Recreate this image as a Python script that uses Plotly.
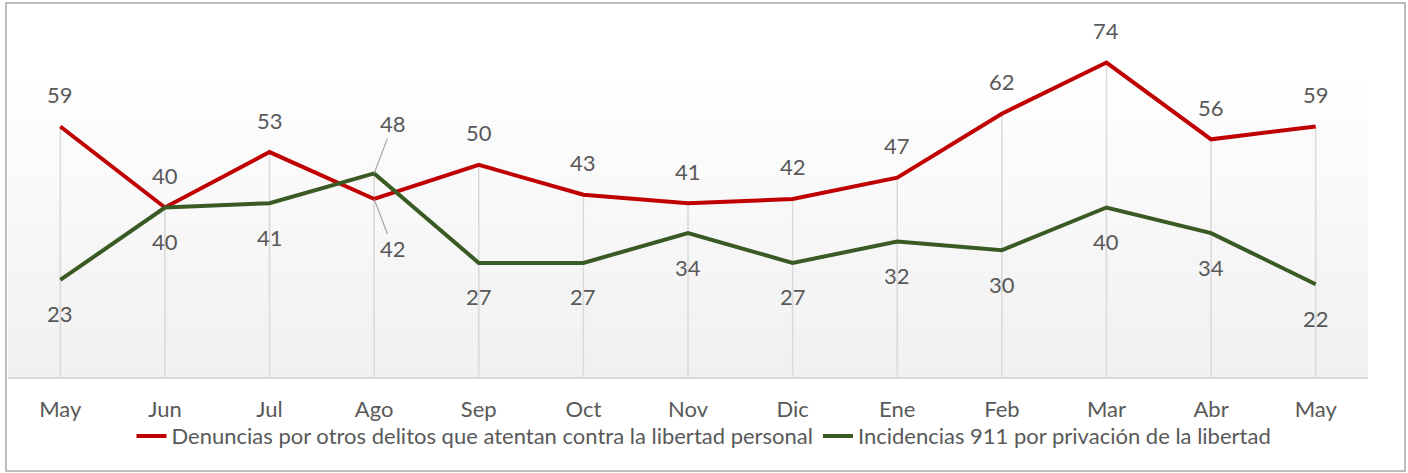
import plotly.graph_objects as go

months = ["May", "Jun", "Jul", "Ago", "Sep", "Oct", "Nov", "Dic", "Ene", "Feb", "Mar", "Abr", "May"]
denuncias = [59, 40, 53, 42, 50, 43, 41, 42, 47, 62, 74, 56, 59]
incidencias = [23, 40, 41, 48, 27, 27, 34, 27, 32, 30, 40, 34, 22]
name_den = "Denuncias por otros delitos que atentan contra la libertad personal"
name_inc = "Incidencias 911 por privación de la libertad"

RED = "#c00000"
GREEN = "#3a5a23"
TXT = "#595959"
FONT = "Lato"
FS = 22

x = list(range(len(months)))
fig = go.Figure()

# drop lines from highest point to axis
dx, dy = [], []
for i in x:
    dx += [i, i, None]
    dy += [0, max(denuncias[i], incidencias[i]), None]
fig.add_trace(go.Scatter(x=dx, y=dy, mode="lines", line=dict(color="#d9d9d9", width=1.5),
                         showlegend=False, hoverinfo="skip"))

fig.add_trace(go.Scatter(x=x, y=denuncias, mode="lines", name=name_den,
                         line=dict(color=RED, width=4)))
fig.add_trace(go.Scatter(x=x, y=incidencias, mode="lines", name=name_inc,
                         line=dict(color=GREEN, width=4)))

annotations = []
for i in x:
    r, g = denuncias[i], incidencias[i]
    if months[i] == "Ago":
        # overlapping labels: green above, red below with leader lines
        annotations.append(dict(x=i, y=g, text=str(g), showarrow=True, arrowhead=0, arrowwidth=1.2,
                                arrowcolor="#a6a6a6", ax=19, ay=-50, standoff=0,
                                font=dict(size=FS, color=TXT, family=FONT)))
        annotations.append(dict(x=i, y=r, text=str(r), showarrow=True, arrowhead=0, arrowwidth=1.2,
                                arrowcolor="#a6a6a6", ax=19, ay=50, standoff=0,
                                font=dict(size=FS, color=TXT, family=FONT)))
    else:
        annotations.append(dict(x=i, y=r, text=str(r), showarrow=False, yshift=32,
                                font=dict(size=FS, color=TXT, family=FONT)))
        annotations.append(dict(x=i, y=g, text=str(g), showarrow=False, yshift=-34,
                                font=dict(size=FS, color=TXT, family=FONT)))

# gradient background of plot area
shapes = []
top = 0.865
n = 40
for k in range(n):
    y0 = top * k / n
    y1 = top * (k + 1) / n
    t = k / (n - 1)
    c = int(round(240 + (254 - 240) * t))
    shapes.append(dict(type="rect", xref="paper", yref="paper", x0=0, x1=1, y0=y0, y1=y1,
                       fillcolor=f"rgb({c},{c},{c})", line=dict(width=0), layer="below"))
# axis line
shapes.append(dict(type="line", xref="paper", yref="paper", x0=0, x1=1, y0=0, y1=0,
                   line=dict(color="#d9d9d9", width=2)))
# outer border
shapes.append(dict(type="rect", xref="paper", yref="paper", x0=-0.0015, x1=1.0272, y0=-0.2727, y1=1.0997,
                   line=dict(color="#a6a6a6", width=1.5), fillcolor="rgba(0,0,0,0)"))

fig.update_layout(
    width=1408, height=473,
    margin=dict(l=8, r=40, t=37, b=95),
    paper_bgcolor="white", plot_bgcolor="white",
    xaxis=dict(tickmode="array", tickvals=x, ticktext=months, range=[-0.5, 12.5],
               showgrid=False, zeroline=False, showline=False, ticks="",
               ticklabelstandoff=16, automargin=False,
               tickfont=dict(size=FS, color=TXT, family=FONT)),
    yaxis=dict(range=[0, 80], showgrid=False, zeroline=False, showticklabels=False,
               showline=False, automargin=False),
    legend=dict(orientation="h", xref="container", x=0.5, xanchor="center", yref="container",
                y=0.078, yanchor="middle", font=dict(size=FS, color=TXT, family=FONT),
                bgcolor="rgba(0,0,0,0)"),
    annotations=annotations, shapes=shapes, showlegend=True,
)

fig.write_html("out.html", config={"displayModeBar": False},
               post_script="document.body.style.margin='0';")
